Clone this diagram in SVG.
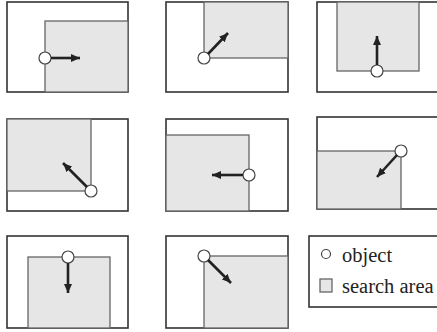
<svg xmlns="http://www.w3.org/2000/svg" width="437" height="332" viewBox="0 0 437 332">
<style>
.outer{fill:#fff;stroke:#333;stroke-width:1.6}
.area{fill:#e6e6e6;stroke:#666;stroke-width:1.3}
.obj{fill:#fff;stroke:#444;stroke-width:1.2}
.arr{stroke:#222;stroke-width:2.6;fill:none;marker-end:url(#ah)}
.lbl{font-family:"Liberation Serif","Times New Roman",serif;font-size:20.5px;fill:#222}
</style>
<defs>
<marker id="ah" markerUnits="userSpaceOnUse" markerWidth="10" markerHeight="8" refX="9" refY="4" orient="auto">
<path d="M0,0 L9,4 L0,8 Z" fill="#222"/>
</marker>
</defs>
<rect width="437" height="332" fill="#fff"/>
<g id="panel1">
<rect class="outer" x="7" y="2" width="121" height="90"/>
<rect class="area" x="45" y="21" width="83" height="71"/>
<circle class="obj" cx="45" cy="58" r="6"/>
</g>
<g id="panel2">
<rect class="outer" x="166" y="2" width="122" height="90"/>
<rect class="area" x="204" y="2" width="84" height="56"/>
<circle class="obj" cx="204" cy="58" r="6"/>
</g>
<g id="panel3">
<rect class="outer" x="317" y="2" width="124" height="90"/>
<rect class="area" x="337" y="2" width="82" height="69"/>
<circle class="obj" cx="377" cy="71" r="6"/>
</g>
<g id="panel4">
<rect class="outer" x="7" y="119" width="121" height="92"/>
<rect class="area" x="7" y="119" width="84" height="72"/>
<circle class="obj" cx="91" cy="191" r="6"/>
</g>
<g id="panel5">
<rect class="outer" x="166" y="119" width="122" height="92"/>
<rect class="area" x="166" y="135" width="83" height="76"/>
<circle class="obj" cx="249" cy="175" r="6"/>
</g>
<g id="panel6">
<rect class="outer" x="317" y="117" width="124" height="92"/>
<rect class="area" x="317" y="151" width="84" height="58"/>
<circle class="obj" cx="401" cy="151" r="6"/>
</g>
<g id="panel7">
<rect class="outer" x="7" y="236" width="121" height="92"/>
<rect class="area" x="28" y="257" width="82" height="71"/>
<circle class="obj" cx="68" cy="257" r="6"/>
</g>
<g id="panel8">
<rect class="outer" x="166" y="236" width="122" height="92"/>
<rect class="area" x="204" y="256" width="84" height="72"/>
<circle class="obj" cx="204" cy="256" r="6"/>
</g>
<g id="connectors">
<line class="arr" x1="51" y1="58" x2="80" y2="58"/>
<line class="arr" x1="208" y1="54" x2="228" y2="33"/>
<line class="arr" x1="377" y1="65" x2="377" y2="36"/>
<line class="arr" x1="87" y1="187" x2="63" y2="163"/>
<line class="arr" x1="243" y1="175" x2="212" y2="175"/>
<line class="arr" x1="397" y1="155" x2="377" y2="177"/>
<line class="arr" x1="68" y1="263" x2="68" y2="293"/>
<line class="arr" x1="208" y1="260" x2="231" y2="283"/>
</g>
<g id="legend">
<rect class="outer" x="309" y="236" width="132" height="71"/>
<circle class="obj" cx="326" cy="254" r="4.5"/>
<text class="lbl" x="342" y="262">object</text>
<rect class="area" x="320" y="279" width="12" height="13"/>
<text class="lbl" x="342" y="293">search area</text>
</g>
</svg>
